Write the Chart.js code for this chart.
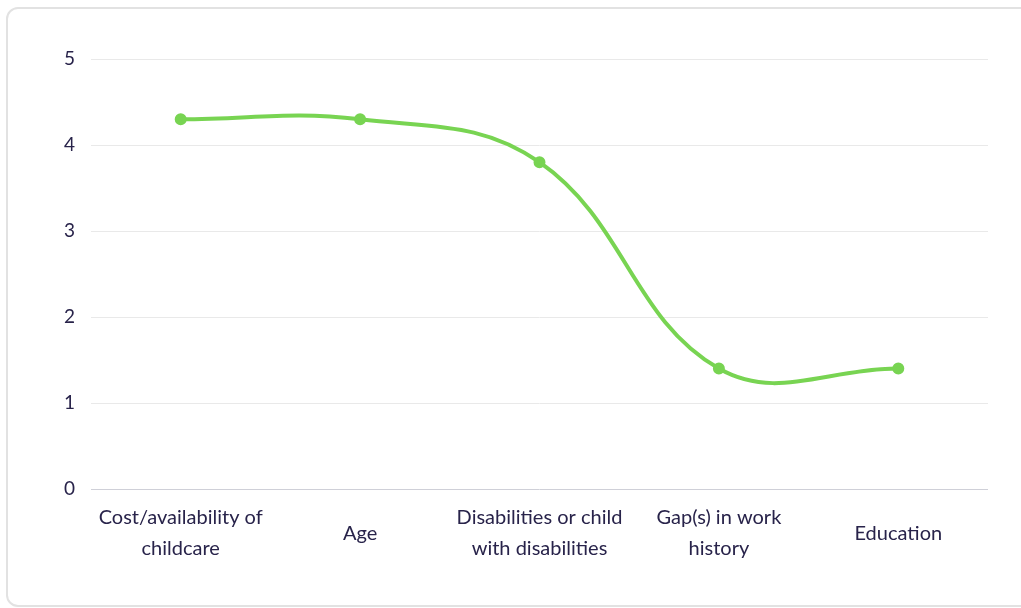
<!DOCTYPE html>
<html>
<head>
<meta charset="utf-8">
<script src="https://cdn.jsdelivr.net/npm/chart.js@4"></script>
<style>
  html, body { margin: 0; padding: 0; background: #fff; overflow: hidden; }
  .card { position: absolute; left: 6px; top: 7px; width: 1040px; height: 600px;
          border: 2px solid #e2e2e2; border-radius: 12px; box-sizing: border-box; }
  .wrap { position: absolute; left: 0; top: 0; width: 1021px; height: 608px; }
</style>
</head>
<body>
<div class="card"></div>
<div class="wrap"><canvas id="c"></canvas></div>
<script>
const LABELS = [
  ['Cost/availability of', 'childcare'],
  'Age',
  ['Disabilities or child', 'with disabilities'],
  ['Gap(s) in work', 'history'],
  'Education'
];
const VALUES = [4.3, 4.3, 3.8, 1.4, 1.4];
const Y_TICKS = [0, 1, 2, 3, 4, 5];

const GREEN = '#78d452';
const TEXT = '#28234a';
const FAMILY = 'Lato, "Open Sans", sans-serif';
const FONT = { family: FAMILY, size: 20, lineHeight: 1.55 };

new Chart(document.getElementById('c'), {
  type: 'line',
  data: {
    labels: LABELS,
    datasets: [{
      data: VALUES,
      borderColor: GREEN,
      backgroundColor: GREEN,
      borderWidth: 4,
      pointRadius: 4,
      pointHoverRadius: 4,
      tension: 0.4,
      fill: false
    }]
  },
  options: {
    responsive: true, maintainAspectRatio: false, animation: false,
    layout: { padding: { top: 59, right: 33, left: 0, bottom: 0 } },
    plugins: { legend: { display: false }, tooltip: { enabled: false } },
    scales: {
      x: {
        offset: true,
        grid: { display: false },
        border: { display: false },
        ticks: { color: TEXT, font: FONT, padding: 21, maxRotation: 0, autoSkip: false, crossAlign: 'center' },
        afterFit: s => { s.height = 119; }
      },
      y: {
        min: 0, max: 5,
        afterBuildTicks: s => { s.ticks = Y_TICKS.map(v => ({ value: v })); },
        grid: { color: c => c.tick && c.tick.value === 0 ? '#cfd0d8' : '#e9e9e9', drawTicks: false },
        border: { display: false },
        ticks: { color: TEXT, font: { family: FAMILY, size: 19 }, padding: 16 },
        afterFit: s => { s.width = 91; }
      }
    }
  }
});
</script>
</body>
</html>
